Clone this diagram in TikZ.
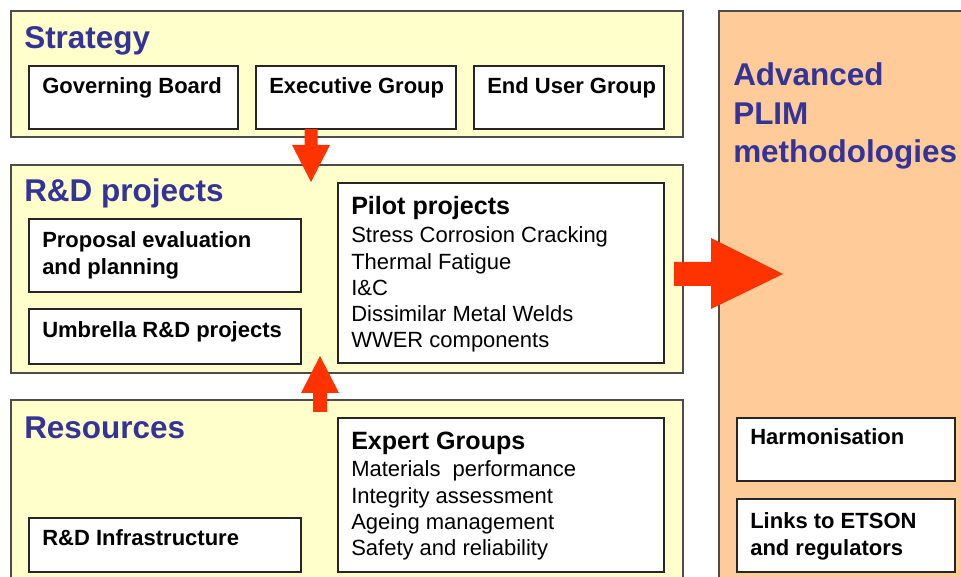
\documentclass[tikz,border=0pt]{standalone}
\usepackage{fontspec}
\setmainfont{Liberation Sans}
\usepackage{tikz}
\usetikzlibrary{positioning,calc}

\definecolor{paneyellow}{HTML}{FFFFCC}
\definecolor{panepeach}{HTML}{FFCC99}
\definecolor{titleblue}{HTML}{333399}
\definecolor{arrowred}{HTML}{FF3300}

\tikzset{
  panel/.style={draw=black!70, line width=1pt},
  box/.style={draw=black!85, line width=0.8pt, fill=white},
  title/.style={anchor=base west, inner sep=0pt, text=titleblue, font=\bfseries\fontsize{23.6}{28}\selectfont},
  boxtext/.style={anchor=base west, inner sep=0pt, font=\bfseries\fontsize{16.5}{19.8}\selectfont},
  head/.style={anchor=base west, inner sep=0pt, font=\bfseries\fontsize{18.8}{22}\selectfont},
  item/.style={anchor=base west, inner sep=0pt, font=\fontsize{16.5}{19.8}\selectfont},
  bigarrow/.style={fill=arrowred}
}

\begin{document}
\begin{tikzpicture}[x=0.75pt,y=-0.75pt]
  \useasboundingbox (0,0) rectangle (961,577);
  \clip (0,0) rectangle (961,577);
  % panels
  \draw[panel, fill=paneyellow] (11,11) rectangle (683,137);
  \draw[panel, fill=paneyellow] (11,165) rectangle (683,373);
  \draw[panel, fill=paneyellow] (11,400) rectangle (683,600);
  \draw[panel, fill=panepeach] (719,11) rectangle (980,600);
  % boxes
  \draw[box] (29,66) rectangle (238,129);
  \draw[box] (256,66) rectangle (456,129);
  \draw[box] (474,66) rectangle (664,129);
  \draw[box] (29,219) rectangle (301,292);
  \draw[box] (29,309) rectangle (301,364);
  \draw[box] (338,183) rectangle (664,363);
  \draw[box] (338,418) rectangle (664,572);
  \draw[box] (29,518) rectangle (301,572);
  \draw[box] (737,418) rectangle (955,481);
  \draw[box] (737,499) rectangle (955,572);
  % block arrows
  \coordinate (down) at (311,129);
  \coordinate (up) at (320,412);
  \coordinate (right) at (674,274);
  \fill[bigarrow] (down) ++(-6.5,0) -- ++(13,0) -- ++(0,16) -- ++(12.5,0)
    -- (311,182) -- (292,145) -- ++(12.5,0) -- cycle;
  \fill[bigarrow] (up) ++(-7,0) -- ++(14,0) -- ++(0,-19) -- ++(12,0)
    -- (320,356) -- (301,393) -- ++(12,0) -- cycle;
  \fill[bigarrow] (right) ++(0,-12) -- ++(37,0) -- ++(0,-24) -- (783,274)
    -- (711,309) -- ++(0,-23) -- (674,286) -- cycle;
  % titles
  \node[title] (strategy) at (24,49) {Strategy};
  \node[title] (rdproj) at (24,202) {R\&D projects};
  \node[title] (resources) at (24,438) {Resources};
  \node[title] (adv) at (733,86) {Advanced};
  \node[title] (plim) at (733,125) {PLIM};
  \node[title] (methods) at (733,163) {methodologies};
  % box texts
  \node[boxtext] (gov) at (42,94) {Governing Board};
  \node[boxtext] (exec) at (269,94) {Executive Group};
  \node[boxtext] (enduser) at (487,94) {End User Group};
  \node[boxtext] (proposal) at (42,248) {Proposal evaluation};
  \node[boxtext] (planning) at (42,275) {and planning};
  \node[boxtext] (umbrella) at (42,338) {Umbrella R\&D projects};
  \node[boxtext] (infra) at (42,545) {R\&D Infrastructure};
  \node[boxtext] (harmon) at (750,445) {Harmonisation};
  \node[boxtext] (etson) at (750,528) {Links to ETSON};
  \node[boxtext] (regul) at (750,555) {and regulators};
  % pilot projects
  \node[head] (pilot) at (351,215) {Pilot projects};
  \foreach \t [count=\i] in {Stress Corrosion Cracking, Thermal Fatigue, I\&C,
      Dissimilar Metal Welds, WWER components} {
    \node[item] (pilot\i) at (351, 216.5+26.3*\i) {\t};
  }
  % expert groups
  \node[head] (expert) at (351,450) {Expert Groups};
  \foreach \t [count=\i] in {Materials~ performance, Integrity assessment,
      Ageing management, Safety and reliability} {
    \node[item] (expert\i) at (351, 450.5+26.3*\i) {\t};
  }
\end{tikzpicture}
\end{document}
